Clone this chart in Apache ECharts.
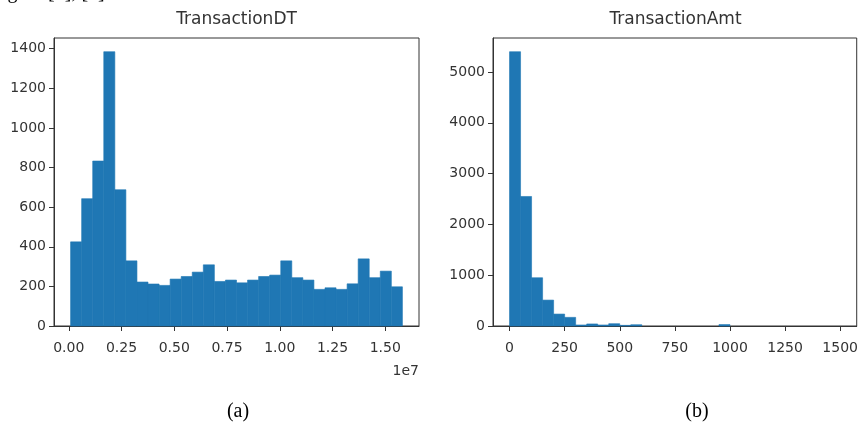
<!DOCTYPE html>
<html>
<head>
<meta charset="utf-8">
<script src="https://cdn.jsdelivr.net/npm/echarts@6/dist/echarts.min.js"></script>
<style>
  html, body { margin: 0; padding: 0; background: #fff; }
  #chart { width: 861px; height: 427px; }
</style>
</head>
<body>
<div id="chart"></div>
<script>
// TransactionDT histogram, 30 bins
const dtStart = 86400
const dtEnd = 15811131
const dtCounts = [425, 643, 833, 1385, 688, 329, 222, 212, 205, 237, 250, 272, 309, 225, 232,
  218, 232, 250, 257, 329, 244, 232, 185, 193, 185, 213, 339, 244, 277, 198]
const dtTicksX = [0, 2500000, 5000000, 7500000, 10000000, 12500000, 15000000]
const dtTicksY = [0, 200, 400, 600, 800, 1000, 1200, 1400]

// TransactionAmt histogram, 30 bins
const amtStart = 0
const amtEnd = 1500
const amtCounts = [5400, 2550, 950, 510, 235, 170, 20, 40, 20, 45, 12, 25, 0, 0, 0,
  0, 0, 0, 0, 28, 0, 0, 0, 0, 0, 0, 0, 0, 0, 0]
const amtTicksX = [0, 250, 500, 750, 1000, 1250, 1500]
const amtTicksY = [0, 1000, 2000, 3000, 4000, 5000]

const BLUE = '#1f77b4'
const INK = '#333'
const FONT = 'DejaVu Sans'

function bins(start, end, counts) {
  let w = (end - start) / counts.length
  return counts.map((c, i) => [start + i * w, start + (i + 1) * w, c])
}

function renderBar(params, api) {
  if (!api.value(2)) return
  let p0 = api.coord([api.value(0), api.value(2)])
  let p1 = api.coord([api.value(1), 0])
  return {
    type: 'rect',
    shape: { x: p0[0], y: p0[1], width: p1[0] - p0[0], height: p1[1] - p0[1] },
    style: { fill: BLUE, stroke: BLUE, lineWidth: 0.6 },
  }
}

function xAxis(idx, min, max, ticks, fmt) {
  return {
    type: 'value',
    gridIndex: idx,
    min: min,
    max: max,
    axisLine: { show: true, onZero: false, lineStyle: { color: INK } },
    axisTick: { show: true, length: 5, customValues: ticks, lineStyle: { color: INK } },
    axisLabel: { customValues: ticks, margin: 15, color: INK, fontSize: 14, fontFamily: FONT, formatter: fmt },
    splitLine: { show: false },
  }
}

function yAxis(idx, max, ticks) {
  return {
    type: 'value',
    gridIndex: idx,
    min: 0,
    max: max,
    axisLine: { show: true, onZero: false, lineStyle: { color: INK } },
    axisTick: { show: true, length: 5, customValues: ticks, lineStyle: { color: INK } },
    axisLabel: { customValues: ticks, margin: 8, color: INK, fontSize: 14, fontFamily: FONT, formatter: v => String(v) },
    splitLine: { show: false },
  }
}

let dtPad = (dtEnd - dtStart) * 0.05
let amtPad = (amtEnd - amtStart) * 0.05
let dtMax = Math.max(...dtCounts) * 1.05
let amtMax = Math.max(...amtCounts) * 1.05

let chart = echarts.init(document.getElementById('chart'), null, { renderer: 'canvas' })

chart.setOption({
  animation: false,
  backgroundColor: '#fff',
  grid: [
    { left: 54, top: 38, width: 365, height: 288, show: true, borderColor: INK, borderWidth: 1 },
    { left: 493, top: 38, width: 365, height: 288, show: true, borderColor: INK, borderWidth: 1 },
  ],
  xAxis: [
    xAxis(0, dtStart - dtPad, dtEnd + dtPad, dtTicksX, v => (v / 1e7).toFixed(2)),
    xAxis(1, amtStart - amtPad, amtEnd + amtPad, amtTicksX, v => String(v)),
  ],
  yAxis: [
    yAxis(0, dtMax, dtTicksY),
    yAxis(1, amtMax, amtTicksY),
  ],
  series: [
    {
      type: 'custom',
      xAxisIndex: 0,
      yAxisIndex: 0,
      renderItem: renderBar,
      encode: { x: [0, 1], y: 2 },
      data: bins(dtStart, dtEnd, dtCounts),
    },
    {
      type: 'custom',
      xAxisIndex: 1,
      yAxisIndex: 1,
      renderItem: renderBar,
      encode: { x: [0, 1], y: 2 },
      data: bins(amtStart, amtEnd, amtCounts),
    },
  ],
  graphic: [
    {
      type: 'text', left: 2, top: -17,
      style: { text: 'igure [6], [7]', font: '20px "Liberation Serif"', fill: '#000' },
    },
    {
      type: 'text', x: 236.5, y: 20,
      style: { text: 'TransactionDT', font: '17px "DejaVu Sans"', fill: INK, align: 'center', verticalAlign: 'middle' },
    },
    {
      type: 'text', x: 675.5, y: 20,
      style: { text: 'TransactionAmt', font: '17px "DejaVu Sans"', fill: INK, align: 'center', verticalAlign: 'middle' },
    },
    {
      type: 'text', x: 419, y: 371,
      style: { text: '1e7', font: '14px "DejaVu Sans"', fill: INK, align: 'right', verticalAlign: 'middle' },
    },
    {
      type: 'text', x: 238, y: 412,
      style: { text: '(a)', font: '20px "Liberation Serif"', fill: '#000', align: 'center', verticalAlign: 'middle' },
    },
    {
      type: 'text', x: 697, y: 412,
      style: { text: '(b)', font: '20px "Liberation Serif"', fill: '#000', align: 'center', verticalAlign: 'middle' },
    },
  ],
})
</script>
</body>
</html>
